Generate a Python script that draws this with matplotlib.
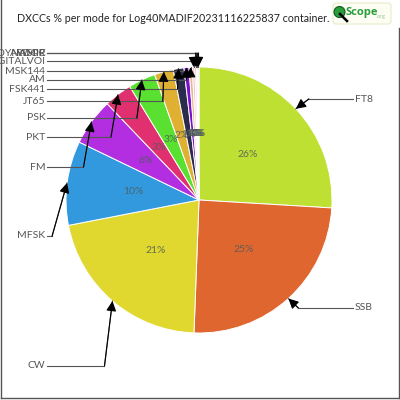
import matplotlib
matplotlib.use("Agg")
import matplotlib.pyplot as plt
from matplotlib.patches import FancyBboxPatch, Circle
from matplotlib.lines import Line2D
import numpy as np

modes = ["FT8", "SSB", "CW", "MFSK", "FM", "PKT", "PSK", "JT65", "FSK441", "AM",
         "MSK144", "DIGITALVOI", "DYNAMIC", "ARDOP", "WSPR"]
shares = [25.9, 24.6, 21.3, 10.2, 5.7, 3.4, 3.3, 2.3, 1.3, 0.6,
          0.4, 0.3, 0.2, 0.15, 0.15]
colors = ["#bde032", "#e0662f", "#e0d72f", "#3299de", "#b22ee0", "#e0306f",
          "#5ae030", "#e0b032", "#2b2b4b", "#7a10d0", "#e8b890", "#f4c8c8",
          "#f0a8c8", "#f4e4d4", "#d8c8e8"]
title = "DXCCs % per mode for Log40MADIF20231116225837 container."

# layout (pixel coords, y downwards)
label_y = [99, 308, 366, 236, 167, 137, 118, 101, 89, 80, 71, 61, 53, 53, 53]
label_side = ["R", "R", "L", "L", "L", "L", "L", "L", "L", "L", "L", "L", "L", "L", "L"]
elbow_dx = [13, 10, -8, -15, -8, -7, -5, -1, -1, 0, 0, 0, 0, 0, 0]

W = H = 400
fig = plt.figure(figsize=(4, 4), dpi=100)
ax = fig.add_axes([0, 0, 1, 1])

def Y(y):
    return H - y

cx, cy, R = 199, Y(200), 133
wedges, texts, autotexts = ax.pie(
    shares, colors=colors, startangle=90, counterclock=False,
    center=(cx, cy), radius=R, autopct=lambda p: "%d%%" % round(p),
    pctdistance=0.5, wedgeprops=dict(edgecolor="white", linewidth=0.7),
    textprops=dict(fontsize=7.5, color="#4f5c5a", family="Lato"))
for t in autotexts:
    t.set_alpha(0.85)
ax.set_xlim(0, W)
ax.set_ylim(0, H)
ax.set_aspect("auto")
ax.axis("off")

txtc = "#555555"
for i, w in enumerate(wedges):
    a = np.deg2rad((w.theta1 + w.theta2) / 2)
    tx, ty = cx + R * np.cos(a), cy + R * np.sin(a)
    ly = Y(label_y[i])
    ex = tx + elbow_dx[i]
    if label_side[i] == "R":
        lx = 353
        ax.text(lx + 1.5, ly, modes[i], ha="left", va="center", fontsize=7.5,
                color=txtc, family="Lato")
    else:
        lx = 47
        ax.text(lx - 1.5, ly, modes[i], ha="right", va="center", fontsize=7.5,
                color=txtc, family="Lato")
    ax.plot([lx, ex], [ly, ly], color=txtc, lw=0.8)
    ax.plot([ex, tx], [ly, ty], color=txtc, lw=0.8)
    ax.annotate("", xy=(tx, ty), xytext=(ex, ly),
                arrowprops=dict(arrowstyle="-|>,head_length=0.6,head_width=0.3",
                                color="black", lw=0.8, shrinkA=0, shrinkB=0),
                annotation_clip=False)

# title
fig.text(17 / W, 1 - 19 / H, title, ha="left", va="center", fontsize=7.7,
         color="#222222", family="Lato")

# frame
bc = "#555555"
ax.add_line(Line2D([1, 1], [Y(0), Y(398)], color=bc, lw=1))
ax.add_line(Line2D([1, 398.5], [Y(398), Y(398)], color=bc, lw=1))
ax.add_line(Line2D([398.5, 398.5], [Y(28), Y(398)], color=bc, lw=1))

# logo
ax.add_patch(FancyBboxPatch((333, Y(24)), 58, 21, boxstyle="round,pad=0,rounding_size=3",
                            facecolor="#fdfdf4", edgecolor="#e6edc8", lw=0.8))
ax.add_line(Line2D([340, 347], [Y(14), Y(21)], color="black", lw=1.8))
ax.add_patch(Circle((339.5, Y(12)), 5.5, facecolor="#2a9d3a", edgecolor="#0f5a20", lw=0.8))
ax.text(346, Y(13), "Scope", ha="left", va="center", fontsize=8, color="#2a9d3a",
        family="Open Sans", fontweight="bold")
ax.text(377, Y(16.5), ".org", ha="left", va="center", fontsize=3.5, color="#8bc08b",
        family="Open Sans")

fig.savefig("out.png", dpi=100)
